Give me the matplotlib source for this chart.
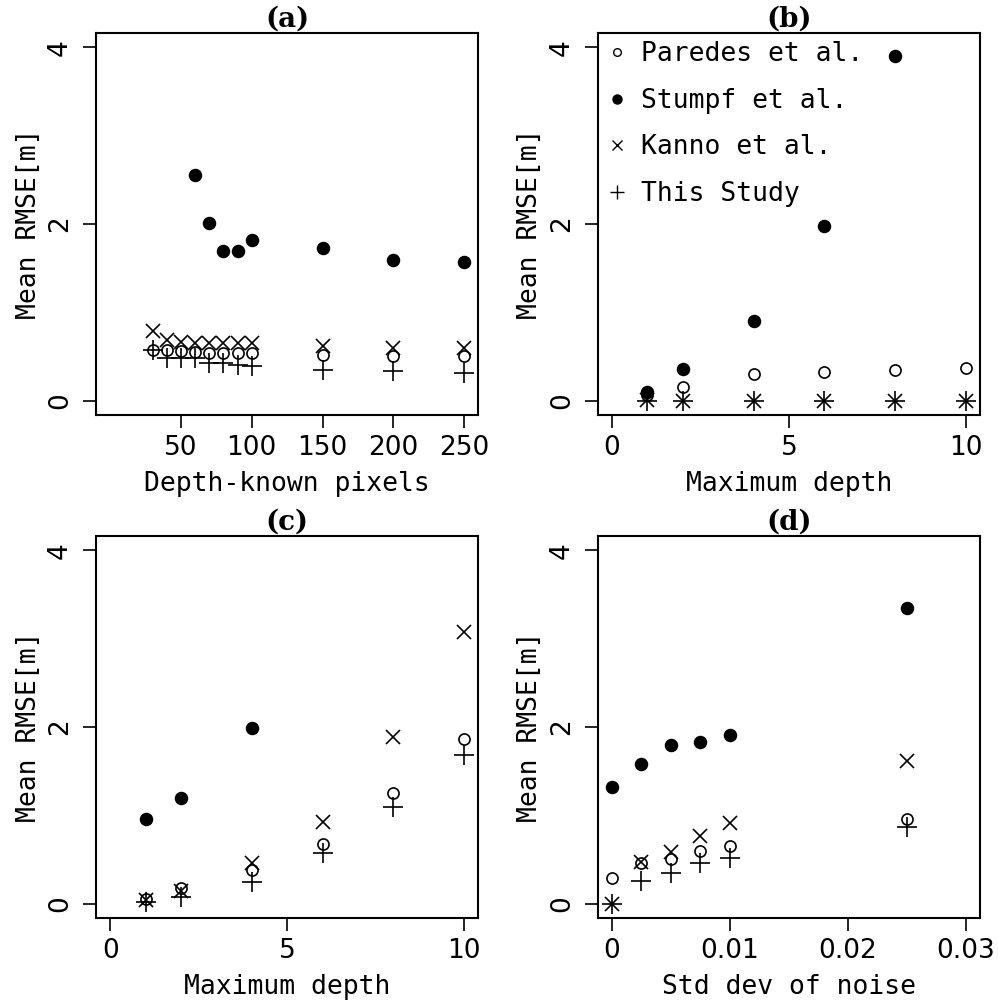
import numpy as np
import matplotlib.pyplot as plt
from matplotlib.lines import Line2D

nan = np.nan

# (a) number of depth-known pixels
pixels = [30, 40, 50, 60, 70, 80, 90, 100, 150, 200, 250]
paredes_a = [0.58, 0.58, 0.56, 0.55, 0.54, 0.54, 0.54, 0.54, 0.52, 0.51, 0.51]
stumpf_a = [nan, nan, nan, 2.55, 2.01, 1.70, 1.70, 1.82, 1.73, 1.59, 1.57]
kanno_a = [0.79, 0.69, 0.67, 0.66, 0.66, 0.66, 0.65, 0.65, 0.62, 0.60, 0.60]
ours_a = [0.58, 0.48, 0.48, 0.48, 0.43, 0.43, 0.41, 0.39, 0.35, 0.34, 0.32]

# (b) maximum depth
depth_b = [1, 2, 4, 6, 8, 10]
paredes_b = [0.07, 0.16, 0.30, 0.33, 0.35, 0.37]
stumpf_b = [0.10, 0.36, 0.90, 1.98, 3.90, nan]
kanno_b = [0.01, 0.0, 0.0, 0.0, 0.0, 0.0]
ours_b = [0.0, 0.0, 0.0, 0.0, 0.0, 0.0]

# (c) maximum depth
depth_c = [1, 2, 4, 6, 8, 10]
paredes_c = [0.06, 0.18, 0.38, 0.68, 1.25, 1.87]
stumpf_c = [0.96, 1.20, 1.99, nan, nan, nan]
kanno_c = [0.04, 0.15, 0.46, 0.93, 1.89, 3.07]
ours_c = [0.02, 0.08, 0.25, 0.57, 1.09, 1.68]

# (d) std dev of noise
noise_d = [0, 0.0025, 0.005, 0.0075, 0.01, 0.025]
paredes_d = [0.29, 0.46, 0.51, 0.60, 0.65, 0.96]
stumpf_d = [1.32, 1.585, 1.80, 1.83, 1.91, 3.35]
kanno_d = [0.0, 0.47, 0.59, 0.77, 0.91, 1.62]
ours_d = [0.0, 0.26, 0.35, 0.46, 0.52, 0.87]

labels = ["Paredes et al.", "Stumpf et al.", "Kanno et al.", "This Study"]

plt.rcParams['font.family'] = ['DejaVu Sans Mono']
FS = 19

fig = plt.figure(figsize=(9.98, 10.01), dpi=100)

W, H = 0.383, 0.3816
panels = [
    ([0.0962, 0.5854, W, H], "(a)", "Depth-known pixels", pixels,
     paredes_a, stumpf_a, kanno_a, ours_a, (-10, 260), [50, 100, 150, 200, 250], ["50", "100", "150", "200", "250"]),
    ([0.599, 0.5854, W, H], "(b)", "Maximum depth", depth_b,
     paredes_b, stumpf_b, kanno_b, ours_b, (-0.4, 10.4), [0, 5, 10], ["0", "5", "10"]),
    ([0.0962, 0.0829, W, H], "(c)", "Maximum depth", depth_c,
     paredes_c, stumpf_c, kanno_c, ours_c, (-0.4, 10.4), [0, 5, 10], ["0", "5", "10"]),
    ([0.599, 0.0829, W, H], "(d)", "Std dev of noise", noise_d,
     paredes_d, stumpf_d, kanno_d, ours_d, (-0.0012, 0.0312), [0, 0.01, 0.02, 0.03], ["0", "0.01", "0.02", "0.03"]),
]

mew = 1.2
for rect, title, xlabel, x, par, stu, kan, our, xlim, xt, xtl in panels:
    ax = fig.add_axes(rect)
    ax.plot(x, par, ls='none', marker='o', ms=8, mfc='white', mec='black', mew=mew)
    ax.plot(x, stu, ls='none', marker='o', ms=8.5, mfc='black', mec='black', mew=mew)
    ax.plot(x, kan, ls='none', marker='x', ms=10, color='black', mew=mew)
    ax.plot(x, our, ls='none', marker='+', ms=14, color='black', mew=mew)
    ax.set_xlim(*xlim)
    ax.set_ylim(-0.16, 4.16)
    ax.set_xticks(xt)
    ax.set_xticklabels(xtl, family='DejaVu Sans')
    ax.set_yticks([0, 2, 4])
    ax.set_yticklabels(["0", "2", "4"], rotation=90, va='center', family='DejaVu Sans')
    ax.tick_params(direction='out', length=9.5, width=1.2, labelsize=FS, pad=5)
    ax.tick_params(axis='y', pad=7)
    for s in ax.spines.values():
        s.set_linewidth(1.5)
    ax.set_xlabel(xlabel, fontsize=FS, labelpad=7)
    ax.set_ylabel("Mean RMSE[m]", fontsize=FS, labelpad=4)
    ax.set_title(title, fontsize=20, fontweight='bold', family='DejaVu Serif', pad=0)
    if title == "(b)":
        handles = [
            Line2D([], [], ls='none', marker='o', ms=5.5, mfc='white', mec='black', mew=1.0),
            Line2D([], [], ls='none', marker='o', ms=6.5, mfc='black', mec='black', mew=1.0),
            Line2D([], [], ls='none', marker='x', ms=7.5, color='black', mew=1.0),
            Line2D([], [], ls='none', marker='+', ms=10.5, color='black', mew=1.0),
        ]
        ax.legend(handles, labels, loc='upper left', bbox_to_anchor=(-0.025, 1.02),
                  frameon=False, fontsize=FS, handlelength=1.0, handletextpad=0.4,
                  labelspacing=0.78, borderaxespad=0.2)

fig.savefig("out.png", dpi=100)
